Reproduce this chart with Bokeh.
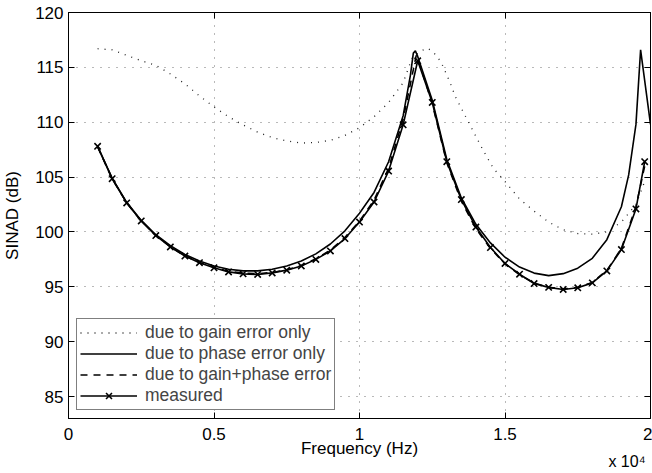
from bokeh.plotting import figure
from bokeh.models import Range1d, LinearAxis, Legend, LegendItem, Title, FixedTicker
from bokeh.embed import file_html
from bokeh.resources import INLINE

# ---------------- data ----------------
meas_f = [1000, 1500, 2000, 2500, 3000, 3500, 4000, 4500, 5000, 5500, 6000, 6500,
          7000, 7500, 8000, 8500, 9000, 9500, 10000, 10500, 11000, 11500, 12000,
          12500, 13000, 13500, 14000, 14500, 15000, 15500, 16000, 16500, 17000,
          17500, 18000, 18500, 19000, 19500, 19800]
meas_v = [107.8, 104.85, 102.65, 101.0, 99.67, 98.64, 97.8, 97.2, 96.73, 96.36,
          96.18, 96.13, 96.27, 96.52, 96.9, 97.5, 98.27, 99.4, 100.9, 102.73,
          105.55, 109.76, 115.6, 111.8, 106.4, 102.95, 100.45, 98.58, 97.13,
          96.15, 95.3, 94.95, 94.76, 94.91, 95.36, 96.45, 98.4, 102.1, 106.4]

both_f = [1000, 1500, 2000, 2500, 3000, 3500, 4000, 4500, 5000, 5500, 6000, 6500,
          7000, 7500, 8000, 8500, 9000, 9500, 10000, 10500, 11000, 11500, 11750,
          11950, 12100, 12500, 13000, 13500, 14000, 14500, 15000, 15500, 16000,
          16500, 17000, 17500, 18000, 18500, 19000, 19500, 19800]
both_v = [107.75, 104.85, 102.65, 101.0, 99.7, 98.65, 97.82, 97.22, 96.77, 96.42,
          96.25, 96.2, 96.3, 96.55, 96.95, 97.55, 98.35, 99.5, 101.0, 102.9,
          105.8, 110.3, 113.5, 116.1, 115.0, 111.7, 106.3, 102.8, 100.3, 98.5,
          97.1, 96.1, 95.35, 94.95, 94.8, 94.95, 95.4, 96.5, 98.5, 102.3, 106.0]

phase_f = [1000, 1500, 2000, 2500, 3000, 3500, 4000, 4500, 5000, 5500, 6000, 6500,
           7000, 7500, 8000, 8500, 9000, 9500, 10000, 10500, 11000, 11500, 11750,
           11850, 11920, 12000, 12500, 13000, 13500, 14000, 14500, 15000, 15500,
           16000, 16500, 17000, 17500, 18000, 18500, 19000, 19250, 19500, 19660,
           20000]
phase_v = [107.8, 104.9, 102.7, 101.05, 99.75, 98.75, 97.95, 97.35, 96.9, 96.6,
           96.45, 96.45, 96.6, 96.9, 97.35, 98.0, 98.9, 100.1, 101.7, 103.6, 106.4,
           110.6, 114.3, 116.3, 116.5, 116.0, 112.0, 106.6, 103.1, 100.7, 99.0,
           97.7, 96.8, 96.25, 96.02, 96.2, 96.7, 97.6, 99.3, 102.3, 105.2, 109.8,
           116.6, 109.8]

gain_f = [1000, 1500, 2000, 2500, 3000, 3500, 4000, 4500, 5000, 5500, 6000, 6500,
          7000, 7500, 8000, 8500, 9000, 9500, 10000, 10500, 11000, 11500, 11800,
          12100, 12350, 12600, 12800, 13100, 13300, 13650, 14000, 14300, 14600,
          15000, 15500, 16000, 16500, 17000, 17500, 18000, 18500, 19000, 19500,
          19800]
gain_v = [116.7, 116.6, 116.1, 115.6, 115.2, 114.4, 113.5, 112.4, 111.4, 110.5,
          109.75, 109.1, 108.6, 108.3, 108.1, 108.15, 108.35, 108.8, 109.5, 110.5,
          111.8, 113.6, 115.8, 116.5, 116.75, 116.2, 115.5, 113.7, 112.3, 110.5,
          108.7, 107.2, 105.8, 104.6, 103.0, 101.9, 100.9, 100.2, 99.85, 99.8,
          100.0, 100.9, 102.5, 104.6]

x_ticks = [0, 5000, 10000, 15000, 20000]
x_tick_labels = ["0", "0.5", "1", "1.5", "2"]
y_ticks = [85, 90, 95, 100, 105, 110, 115, 120]

legend_labels = ["due to gain error only", "due to phase error only",
                 "due to gain+phase error", "measured"]
exponent_text = "x 10\u2074"

FONT = "Liberation Sans"

p = figure(width=652, height=473, output_backend="svg", toolbar_location=None,
           x_range=Range1d(0, 20000), y_range=Range1d(83, 120),
           min_border_left=68, min_border_right=2, min_border_top=12,
           min_border_bottom=55)
p.background_fill_color = "white"
p.border_fill_color = "white"
p.outline_line_color = "black"
p.outline_line_width = 1

# axes
for ax in (p.xaxis[0], p.yaxis[0]):
    ax.major_tick_in = 6
    ax.major_tick_out = 0
    ax.minor_tick_line_color = None
    ax.axis_line_color = "black"
    ax.major_tick_line_color = "black"
    ax.major_label_text_font = FONT
    ax.major_label_text_font_size = "17px"
    ax.major_label_text_color = "black"
    ax.axis_label_text_font = FONT
    ax.axis_label_text_font_size = "17px"
    ax.axis_label_text_font_style = "normal"
    ax.axis_label_text_color = "black"

p.xaxis.ticker = FixedTicker(ticks=x_ticks)
p.xaxis.major_label_overrides = {t: s for t, s in zip(x_ticks, x_tick_labels)}
p.xaxis.axis_label = "Frequency (Hz)"
p.xaxis.major_label_standoff = 9
p.xaxis.axis_label_standoff = -4

p.yaxis.ticker = FixedTicker(ticks=y_ticks)
p.yaxis.axis_label = "SINAD (dB)"
p.yaxis.major_label_standoff = 5
p.yaxis.axis_label_standoff = 10

# extra axes for inward ticks on top/right (box on)
for loc, tk in (("above", x_ticks), ("right", y_ticks)):
    a = LinearAxis(ticker=FixedTicker(ticks=tk), major_tick_in=6, major_tick_out=0,
                   minor_tick_line_color=None,
                   major_label_overrides={t: "" for t in tk},
                   major_label_standoff=0, axis_line_color="black",
                   major_tick_line_color="black")
    p.add_layout(a, loc)

# grid
p.xgrid.ticker = FixedTicker(ticks=x_ticks)
p.ygrid.ticker = FixedTicker(ticks=y_ticks)
for g in (p.xgrid[0], p.ygrid[0]):
    g.grid_line_color = "black"
    g.grid_line_alpha = 0.55
    g.grid_line_dash = "1 7"
    g.grid_line_width = 1

# curves
r_gain = p.line(gain_f, gain_v, line_color="#222222", line_width=1.3, line_dash="1 6")
r_phase = p.line(phase_f, phase_v, line_color="black", line_width=1.6)
r_both = p.line(both_f, both_v, line_color="black", line_width=1.6, line_dash="7 6")
r_meas = p.line(meas_f, meas_v, line_color="black", line_width=1.6)
r_meas_m = p.scatter(meas_f, meas_v, marker="x", size=9, line_color="black",
                     line_width=1.6)

legend = Legend(items=[
    LegendItem(label=legend_labels[0], renderers=[r_gain]),
    LegendItem(label=legend_labels[1], renderers=[r_phase]),
    LegendItem(label=legend_labels[2], renderers=[r_both]),
    LegendItem(label=legend_labels[3], renderers=[r_meas, r_meas_m]),
], location=(8, 8), margin=0, padding=3, spacing=0,
    glyph_width=57, glyph_height=21, label_height=21, label_standoff=8,
    label_text_font=FONT, label_text_font_size="17.5px",
    border_line_color="black", border_line_width=1,
    background_fill_color="white", background_fill_alpha=1.0)
p.add_layout(legend, "center")

# exponent (x 10^4) as a bottom side-panel title; negative standoff keeps the frame size
p.add_layout(Title(text=exponent_text, align="right", vertical_align="top",
                   standoff=-16, offset=5, text_font=FONT, text_font_size="16px",
                   text_font_style="normal", text_color="black"), "below")

open("out.html", "w").write(file_html(p, INLINE))
